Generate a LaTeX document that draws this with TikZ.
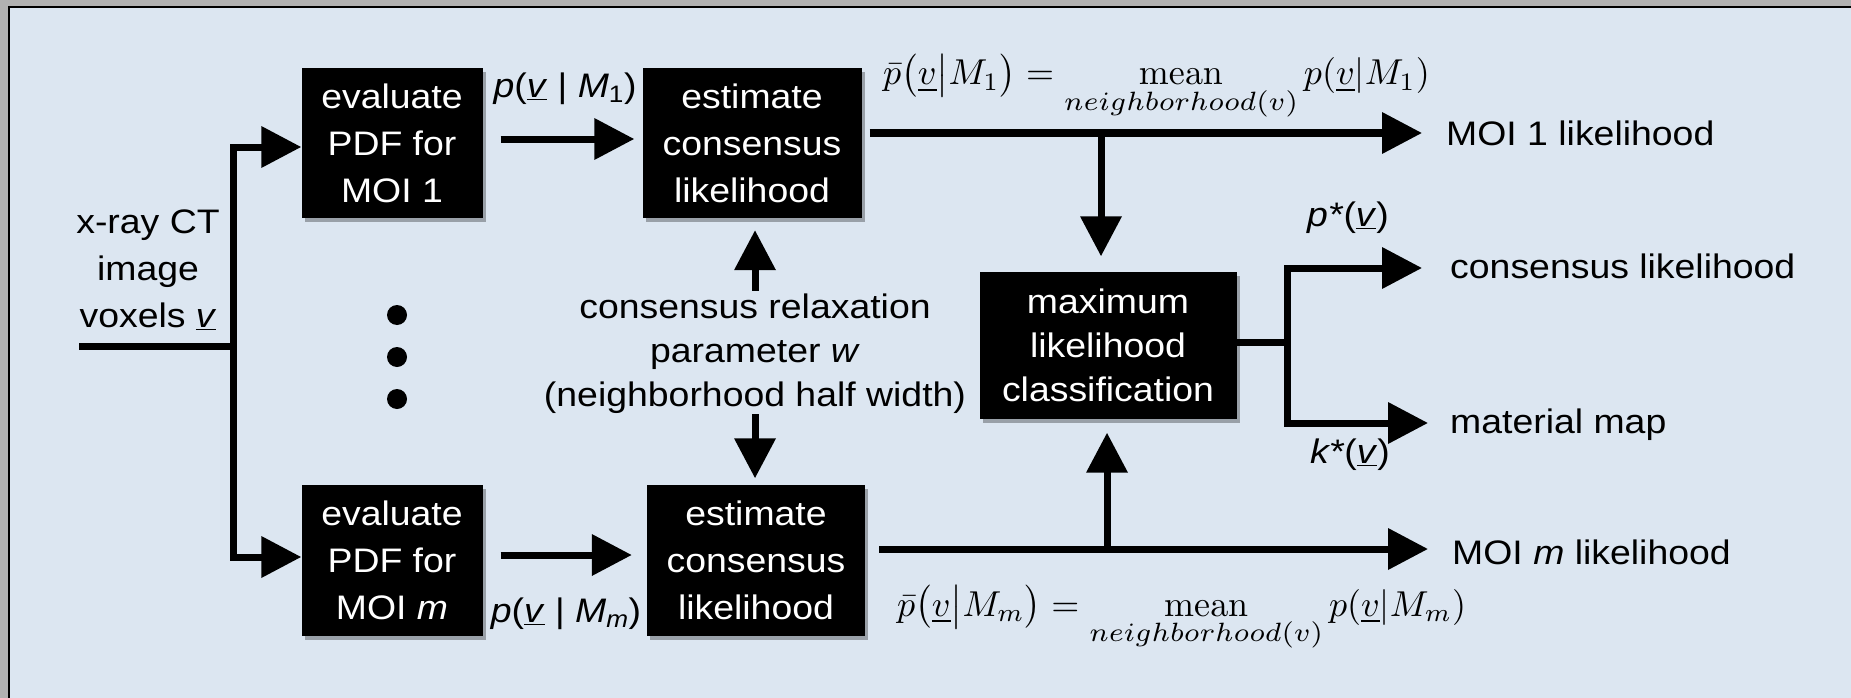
\RequirePackage{fix-cm}
\documentclass[tikz,border=0pt]{standalone}
\usepackage[no-math]{fontspec}
\usepackage{graphicx}
\setmainfont[FakeStretch=1.1]{Liberation Sans}
\usetikzlibrary{arrows.meta,shadows}
\definecolor{bgblue}{HTML}{DCE6F1}
\definecolor{framegray}{HTML}{B2B2B2}
\newcommand{\nbhsub}{\scalebox{1.1}[1.05]{$\scriptstyle neighborhood(v)$}}
\newcommand{\formulaA}[1]{\scalebox{3.6}{\fontsize{10}{12}\selectfont$\displaystyle \bar{p}\bigl(\underline{v}\big|M_{#1}\bigr) = \mathop{\mathrm{mean}}\limits_{\nbhsub} p(\underline{v}|M_{#1})$}}
\tikzset{
  blackbox/.style={fill=black, text=white, align=center, inner sep=0pt,
    font=\fontsize{34}{47}\selectfont,
    drop shadow={shadow xshift=3pt, shadow yshift=-4pt, opacity=0.3, fill=black}},
  lbl/.style={align=center, inner sep=0pt, font=\fontsize{34}{47}\selectfont},
  mathlbl/.style={inner sep=0pt},
  conn/.style={line width=7pt},
  arr/.style={conn, -{Triangle[length=40pt,width=40pt]}},
}
\begin{document}
\begin{tikzpicture}[x=1pt,y=-1pt,line join=miter]
\useasboundingbox (0,0) rectangle (1851,698);
% background and frame
\fill[bgblue] (0,0) rectangle (1851,698);
\fill[framegray] (0,0) rectangle (1851,6);
\fill[framegray] (0,0) rectangle (8,698);
\fill[black] (8,6) rectangle (1851,8);
\fill[black] (8,6) rectangle (10,698);

% boxes
\node[blackbox, minimum width=181pt, minimum height=150pt] (eval1) at (392,143) {evaluate\\PDF for\\MOI 1};
\node[blackbox, minimum width=181pt, minimum height=151pt] (evalm) at (392,560) {evaluate\\PDF for\\MOI \textit{m}};
\node[blackbox, minimum width=219pt, minimum height=150pt] (est1) at (752,143) {estimate\\consensus\\likelihood};
\node[blackbox, minimum width=218pt, minimum height=151pt] (estm) at (756,560) {estimate\\consensus\\likelihood};
\node[blackbox, minimum width=257pt, minimum height=147pt, font=\fontsize{34}{44}\selectfont] (ml) at (1108,345) {maximum\\likelihood\\classification};

% labels
\node[lbl] (xin) at (148,270) {x-ray CT\\image\\voxels \underline{\textit{v}}};
\node[lbl, font=\fontsize{34}{44}\selectfont] (params) at (755,354) {consensus relaxation\\parameter \textit{w}\\(neighborhood half width)};
\node[lbl] (p1) at (565,89) {\textit{p}(\underline{\textit{v}} | \textit{M}\textsubscript{1})};
\node[lbl] (pm) at (566,614) {\textit{p}(\underline{\textit{v}} | \textit{M}\textsubscript{\textit{m}})};
\node[lbl] (ps) at (1348,218) {\textit{p*}(\underline{\textit{v}})};
\node[lbl] (ks) at (1350,455) {\textit{k*}(\underline{\textit{v}})};
\node[lbl, anchor=west] (l1) at (1446,133) {MOI 1 likelihood};
\node[lbl, anchor=west] (lc) at (1450,266) {consensus likelihood};
\node[lbl, anchor=west] (lmm) at (1450,425) {material map};
\node[lbl, anchor=west] (lm) at (1452,552) {MOI \textit{m} likelihood};
\node[mathlbl, anchor=base west] (f1) at (883,85) {\formulaA{1}};
\node[mathlbl, anchor=base west] (fm) at (897,616) {\formulaA{m}};

% dots
\foreach \yy in {315,357,399}
  \fill (397,\yy) circle[radius=10pt];

% coordinates
\coordinate (in0) at (79,346);
\coordinate (jin) at (233,346);
\coordinate (o1) at (1422,133);
\coordinate (om) at (1428,549);
\coordinate (j1) at (1101,133);
\coordinate (jm) at (1107,549);
\coordinate (jr) at (1287,342);
\coordinate (oc) at (1422,268);
\coordinate (omap) at (1428,423);

% connectors
\draw[conn] (in0) -- (jin);
\draw[arr] (jin) |- ([yshift=-4pt]eval1.west);
\draw[arr] (jin) |- ([yshift=3pt]evalm.west);
\draw[arr, shorten <=18pt, shorten >=8pt] ([yshift=4pt]eval1.east) -- ([yshift=4pt]est1.west);
\draw[arr, shorten <=18pt, shorten >=15pt] ([yshift=5pt]evalm.east) -- ([yshift=5pt]estm.west);
\draw[arr, shorten <=8pt] ([yshift=10pt]est1.east) -- (o1);
\draw[arr, shorten <=14pt] ([yshift=11pt]estm.east) -- (om);
\draw[arr, shorten >=15pt] (j1) -- (j1 |- ml.north);
\draw[arr, shorten >=14pt] (jm) -- (jm |- ml.south);
\draw[arr, shorten <=3pt, shorten >=12pt] (params.north) -- (params.north |- est1.south);
\draw[arr, shorten >=6pt] (params.south) -- (params.south |- estm.north);
\draw[conn] ([yshift=3pt]ml.east) -- (jr);
\draw[arr] (jr) |- (oc);
\draw[arr] (jr) |- (omap);
\end{tikzpicture}
\end{document}
